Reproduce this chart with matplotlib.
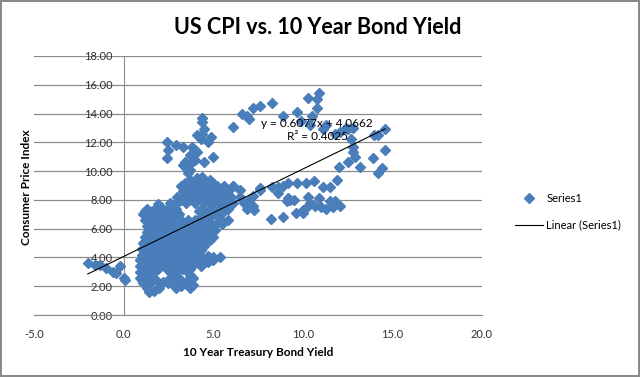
import matplotlib.pyplot as plt
import numpy as np

# %% Data (10 year yield, CPI)
left_x = [-2.0, -1.6, -1.3, -1.0, -0.6, -0.4, -0.2, 0.0, 0.1]
left_y = [3.6, 3.5, 3.5, 3.3, 3.0, 2.9, 3.4, 2.6, 2.4]

main_x = [1.4, 1.7, 1.3, 2.0, 2.9, 3.2, 3.7,
          1.1, 1.5, 2.2, 2.5, 2.8, 3.4, 3.9,
          0.9, 1.2, 1.6, 2.6, 2.9, 3.9,
          0.9, 1.3, 1.7, 2.6, 3.1, 3.5,
          0.9, 1.2, 1.5, 1.9, 2.3, 2.7, 3.1, 3.4, 3.9, 4.3,
          0.9, 1.3, 1.6, 2.0, 2.4, 2.8, 3.2, 3.6, 4.0, 4.4, 4.7, 5.0, 5.4,
          1.0, 1.4, 1.8, 2.2, 2.6, 3.0, 3.4, 3.8, 4.2, 4.7,
          1.0, 1.4, 1.8, 2.2, 2.6, 3.0, 3.4, 3.8, 4.3,
          1.1, 1.5, 1.9, 2.3, 2.7, 3.1, 3.5, 3.9, 4.3, 4.8,
          1.2, 1.6, 2.0, 2.4, 2.8, 3.2, 3.6, 4.0, 4.4, 5.0,
          1.3, 1.7, 2.1, 2.5, 2.9, 3.3, 3.7, 4.1, 4.5, 5.1,
          1.3, 1.7, 2.1, 2.5, 2.9, 3.3, 3.7, 4.1, 4.5, 4.9, 5.5,
          1.2, 1.6, 2.0, 2.4, 2.8, 3.2, 3.6, 4.0, 4.6, 5.4, 5.8,
          1.1, 1.5, 1.9, 2.3, 2.7, 3.1, 4.6, 5.0, 5.5,
          1.3, 1.8, 2.1, 2.5, 2.9, 4.4, 4.8, 5.3, 5.8,
          1.9, 2.6, 3.0, 3.5, 4.0, 4.5, 5.0, 5.6, 6.1,
          3.0, 3.3, 3.7, 4.1, 4.5, 4.9, 5.4, 6.0,
          3.3, 3.7, 4.1, 4.5, 4.9, 5.3, 5.8,
          3.2, 3.6, 4.0, 4.4, 4.8, 5.2, 5.6, 6.1,
          3.7, 4.1, 4.4, 4.8]
main_y = [1.6, 1.7, 1.9, 1.9, 1.9, 2.0, 1.9,
          2.2, 2.2, 2.3, 2.2, 2.1, 2.2, 2.1,
          2.6, 2.6, 2.6, 2.6, 2.7, 2.6,
          3.0, 3.0, 3.0, 3.0, 3.1, 3.1,
          3.4, 3.4, 3.4, 3.4, 3.4, 3.4, 3.4, 3.4, 3.5, 3.4,
          3.8, 3.8, 3.8, 3.8, 3.8, 3.8, 3.8, 3.8, 3.7, 3.9, 3.7, 3.8, 4.0,
          4.2, 4.2, 4.2, 4.2, 4.2, 4.2, 4.2, 4.2, 4.2, 4.1,
          4.6, 4.6, 4.6, 4.6, 4.6, 4.6, 4.6, 4.6, 4.5,
          5.0, 5.0, 5.0, 5.0, 5.0, 5.0, 5.0, 5.0, 5.0, 5.2,
          5.4, 5.4, 5.4, 5.4, 5.4, 5.4, 5.4, 5.4, 5.4, 5.4,
          5.8, 5.8, 5.8, 5.8, 5.8, 5.8, 5.8, 5.8, 5.8, 5.9,
          6.2, 6.2, 6.2, 6.2, 6.2, 6.2, 6.2, 6.2, 6.2, 6.2, 6.3,
          6.6, 6.6, 6.6, 6.6, 6.6, 6.6, 6.6, 6.6, 6.6, 6.7, 6.6,
          7.0, 7.0, 7.0, 7.0, 7.0, 7.0, 7.0, 7.0, 7.1,
          7.4, 7.4, 7.5, 7.4, 7.4, 7.4, 7.4, 7.4, 7.4,
          7.7, 7.8, 7.8, 7.8, 7.8, 7.8, 7.8, 7.8, 7.8,
          8.2, 8.2, 8.2, 8.2, 8.2, 8.2, 8.2, 8.2,
          8.6, 8.6, 8.6, 8.6, 8.6, 8.6, 8.6,
          9.0, 9.0, 9.0, 9.0, 9.0, 9.0, 9.0, 9.0,
          9.4, 9.5, 9.6, 9.4]

# in-between readings of the dense block
fill_x = [1.0, 1.4, 1.8, 2.8, 3.2, 3.6,
          1.1, 1.4, 2.8, 3.7,
          1.1, 1.5, 1.9, 2.4, 2.9, 3.3, 3.7,
          1.1, 1.5, 1.8, 2.2, 2.6, 3.0, 3.4, 3.8, 4.2,
          1.2, 1.6, 2.0, 2.4, 2.8, 3.2, 3.6, 4.0, 4.4, 5.0,
          1.2, 1.6, 2.0, 2.4, 2.8, 3.2, 3.6, 4.0,
          1.3, 1.7, 2.1, 2.5, 2.9, 3.3, 3.7, 4.1, 4.5,
          1.4, 1.8, 2.2, 2.6, 3.0, 3.4, 3.8, 4.2, 4.6,
          1.5, 1.9, 2.3, 2.7, 3.1, 3.5, 3.9, 4.3, 4.8,
          1.5, 1.9, 2.3, 2.7, 3.1, 3.5, 3.9, 4.3, 4.7,
          1.4, 1.8, 2.2, 2.6, 3.0, 3.4, 3.8, 4.3, 4.8, 5.2,
          1.3, 1.7, 2.1, 2.5, 2.9, 4.3, 4.8,
          1.2, 1.6, 2.0, 2.4, 2.8, 4.2, 5.2,
          3.2, 3.5, 3.9, 4.3, 4.7, 5.2, 5.8,
          3.5, 3.9, 4.3, 4.7, 5.1, 5.6,
          3.4, 3.9, 4.3, 4.7, 5.1, 5.5,
          3.4, 3.8, 4.2, 4.6, 5.0]
fill_y = [2.4, 2.4, 2.4, 2.4, 2.4, 2.4,
          2.8, 2.8, 2.8, 2.8,
          3.2, 3.2, 3.2, 3.2, 3.2, 3.2, 3.2,
          3.6, 3.6, 3.6, 3.6, 3.6, 3.6, 3.6, 3.6, 3.6,
          4.0, 4.0, 4.0, 4.0, 4.0, 4.0, 4.0, 4.0, 4.0, 4.0,
          4.4, 4.4, 4.4, 4.4, 4.4, 4.4, 4.4, 4.4,
          4.8, 4.8, 4.8, 4.8, 4.8, 4.8, 4.8, 4.8, 4.8,
          5.2, 5.2, 5.2, 5.2, 5.2, 5.2, 5.2, 5.2, 5.2,
          5.6, 5.6, 5.6, 5.6, 5.6, 5.6, 5.6, 5.6, 5.6,
          6.0, 6.0, 6.0, 6.0, 6.0, 6.0, 6.0, 6.0, 6.0,
          6.4, 6.4, 6.4, 6.4, 6.4, 6.4, 6.4, 6.4, 6.4, 6.4,
          6.8, 6.8, 6.8, 6.8, 6.8, 6.8, 6.8,
          7.2, 7.2, 7.2, 7.2, 7.2, 7.2, 7.2,
          8.0, 8.0, 8.0, 8.0, 8.0, 8.0, 8.0,
          8.4, 8.4, 8.4, 8.4, 8.4, 8.4,
          8.8, 8.8, 8.8, 8.8, 8.8, 8.8,
          9.2, 9.2, 9.2, 9.2, 9.2]

upper_x = [2.4, 2.5, 2.4, 2.9, 3.3, 3.8, 3.7, 4.0, 4.1, 3.4, 3.5, 3.3, 3.7,
           3.6, 3.8, 4.0, 4.5, 5.0, 4.3, 4.7, 4.4, 4.5, 4.9, 4.4, 4.4, 4.1]
upper_y = [12.0, 11.5, 10.9, 11.8, 11.7, 11.7, 11.1, 11.5, 11.3, 10.6, 10.2,
           10.4, 10.1, 9.9, 10.6, 10.8, 10.6, 11.0, 12.2, 12.0, 12.6, 12.9,
           12.4, 13.4, 13.7, 12.5]

high_x = [6.1, 6.6, 6.9, 7.0, 7.2, 7.6, 8.3, 8.9, 9.7, 9.9, 10.3, 10.9, 10.8,
          10.8, 10.5, 10.4, 11.1, 11.3, 11.8, 12.1, 12.4, 12.5, 12.8, 12.7,
          12.8, 12.8, 12.9, 12.5, 12.0, 13.2, 13.9, 14.0, 14.2, 14.6, 14.6,
          14.4, 14.2]
high_y = [13.1, 14.0, 13.8, 13.6, 14.4, 14.5, 14.7, 13.8, 14.1, 13.5, 15.1,
          15.4, 15.0, 14.4, 13.8, 13.2, 12.9, 13.2, 12.6, 12.7, 13.0, 12.9,
          13.0, 12.2, 11.7, 11.3, 11.0, 10.6, 10.3, 10.3, 10.9, 12.5, 12.5,
          12.9, 11.5, 10.2, 9.9]

right_x = [6.1, 6.5, 6.5, 6.7, 6.9, 7.0, 7.2, 7.2, 7.3, 7.6, 7.6, 8.2, 8.3,
           8.6, 8.6, 8.9, 8.9, 9.1, 9.2, 9.2, 9.3, 9.5, 9.6, 9.7, 10.0, 10.0,
           10.2, 10.3, 10.3, 10.4, 10.6, 10.7, 10.9, 11.0, 11.1, 11.3, 11.5,
           11.5, 11.7, 11.8, 11.9, 12.1]
right_y = [9.0, 8.7, 8.2, 7.8, 7.4, 8.0, 8.3, 7.6, 7.3, 8.7, 8.8, 6.7, 8.9,
           8.5, 8.9, 6.8, 9.0, 7.9, 8.1, 9.2, 8.0, 8.0, 7.1, 9.2, 7.1, 7.3,
           9.2, 8.2, 7.6, 7.8, 9.3, 7.6, 8.1, 7.5, 8.9, 7.4, 8.9, 7.9, 7.5,
           7.9, 9.4, 7.6]

# Excel trendline shown on the chart
slope, intercept, r2 = 0.6077, 4.0662, 0.4025

x = np.array(left_x + main_x + fill_x + upper_x + high_x + right_x)
y = np.array(left_y + main_y + fill_y + upper_y + high_y + right_y)

# %% Plot
font = "Lato"
blue = "#4a7ebb"
grid = "#8c8c8c"

fig = plt.figure(figsize=(6.4, 3.77), dpi=100, linewidth=1.5, edgecolor="#8a8a8a")
ax = fig.add_axes([34 / 640, 1 - 315 / 377, 448 / 640, 259 / 377])

ax.plot(x, y, linestyle="none", marker="D", markersize=5.3, color=blue,
        label="Series1", zorder=3)
tx = np.array([x.min(), x.max()])
ax.plot(tx, slope * tx + intercept, color="black", linewidth=0.8,
        label="Linear (Series1)", zorder=4)
ax.text(10.8, 12.85, f"y = {slope}x + {intercept}\nR² = {r2}", ha="center",
        va="center", fontsize=8.5, family=font, linespacing=1.3, zorder=5)

ax.set_xlim(-5, 20)
ax.set_ylim(0, 18)
ax.set_xticks(np.arange(-5, 21, 5))
ax.set_yticks(np.arange(0, 19, 2))
ax.set_xticklabels([f"{v:.1f}" for v in np.arange(-5, 21, 5)])
ax.set_yticklabels([f"{v:.2f}" for v in np.arange(0, 19, 2)])
ax.yaxis.grid(True, color=grid, linewidth=0.9)
ax.set_axisbelow(True)
for s in ["top", "right"]:
    ax.spines[s].set_visible(False)
ax.spines["left"].set_position(("data", 0))
ax.spines["left"].set_color(grid)
ax.spines["bottom"].set_color(grid)
ax.tick_params(length=0, labelsize=8, labelcolor="#303030")
ax.tick_params(axis="y", pad=8)
ax.tick_params(axis="x", pad=10)
for lab in ax.get_xticklabels() + ax.get_yticklabels():
    lab.set_family(font)

fig.text(318 / 640, 1 - 27 / 377, "US CPI vs. 10 Year Bond Yield", ha="center",
         va="center", fontsize=15.5, fontweight="bold", family=font)
fig.text(258 / 640, 1 - 353 / 377, "10 Year Treasury Bond Yield", ha="center",
         va="center", fontsize=8.5, fontweight="bold", family=font)
fig.text(27 / 640, 1 - 187 / 377, "Consumer Price Index", ha="center",
         va="center", rotation=90, fontsize=8.5, fontweight="bold", family=font)

fig.legend(loc="upper left", bbox_to_anchor=(505 / 640, 1 - 183 / 377),
           frameon=False, prop={"family": font, "size": 8}, handlelength=2.5,
           labelspacing=1.4, handletextpad=0.3)

fig.savefig("out.png", dpi=100)
